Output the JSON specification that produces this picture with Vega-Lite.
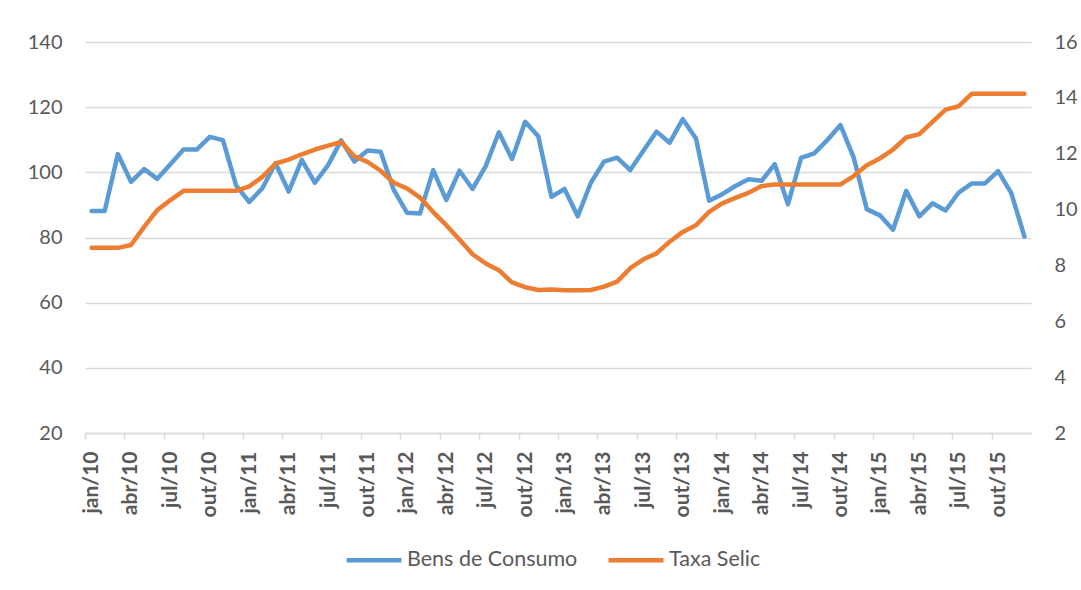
{
  "$schema": "https://vega.github.io/schema/vega-lite/v6.json",
  "width": 946,
  "height": 391,
  "autosize": {"type": "none"},
  "padding": {"left": 85, "top": 42, "right": 50, "bottom": 157},
  "background": "#ffffff",
  "config": {
    "view": {"stroke": null},
    "font": "Lato",
    "axis": {"labelColor": "#595959", "labelFont": "Lato", "title": null}
  },
  "data": {
    "values": [
      {"mes": "jan/10", "bens": 88.1, "selic": 8.63},
      {"mes": "fev/10", "bens": 88.1, "selic": 8.63},
      {"mes": "mar/10", "bens": 105.6, "selic": 8.63},
      {"mes": "abr/10", "bens": 97.1, "selic": 8.73},
      {"mes": "mai/10", "bens": 101.0, "selic": 9.38},
      {"mes": "jun/10", "bens": 98.0, "selic": 9.98},
      {"mes": "jul/10", "bens": 102.5, "selic": 10.34},
      {"mes": "ago/10", "bens": 107.0, "selic": 10.67},
      {"mes": "set/10", "bens": 107.0, "selic": 10.67},
      {"mes": "out/10", "bens": 110.9, "selic": 10.67},
      {"mes": "nov/10", "bens": 109.9, "selic": 10.67},
      {"mes": "dez/10", "bens": 96.0, "selic": 10.67},
      {"mes": "jan/11", "bens": 90.9, "selic": 10.83},
      {"mes": "fev/11", "bens": 95.1, "selic": 11.17},
      {"mes": "mar/11", "bens": 102.8, "selic": 11.65},
      {"mes": "abr/11", "bens": 94.1, "selic": 11.79},
      {"mes": "mai/11", "bens": 103.8, "selic": 11.98},
      {"mes": "jun/11", "bens": 96.8, "selic": 12.15},
      {"mes": "jul/11", "bens": 102.2, "selic": 12.29},
      {"mes": "ago/11", "bens": 109.8, "selic": 12.42},
      {"mes": "set/11", "bens": 103.3, "selic": 11.91},
      {"mes": "out/11", "bens": 106.7, "selic": 11.71},
      {"mes": "nov/11", "bens": 106.3, "selic": 11.39},
      {"mes": "dez/11", "bens": 94.6, "selic": 10.96},
      {"mes": "jan/12", "bens": 87.6, "selic": 10.76},
      {"mes": "fev/12", "bens": 87.4, "selic": 10.43},
      {"mes": "mar/12", "bens": 100.7, "selic": 9.91},
      {"mes": "abr/12", "bens": 91.5, "selic": 9.44},
      {"mes": "mai/12", "bens": 100.5, "selic": 8.93},
      {"mes": "jun/12", "bens": 94.9, "selic": 8.40},
      {"mes": "jul/12", "bens": 101.9, "selic": 8.07},
      {"mes": "ago/12", "bens": 112.3, "selic": 7.83},
      {"mes": "set/12", "bens": 104.1, "selic": 7.39},
      {"mes": "out/12", "bens": 115.5, "selic": 7.22},
      {"mes": "nov/12", "bens": 111.1, "selic": 7.12},
      {"mes": "dez/12", "bens": 92.5, "selic": 7.14},
      {"mes": "jan/13", "bens": 94.9, "selic": 7.11},
      {"mes": "fev/13", "bens": 86.5, "selic": 7.11},
      {"mes": "mar/13", "bens": 96.8, "selic": 7.12},
      {"mes": "abr/13", "bens": 103.3, "selic": 7.24},
      {"mes": "mai/13", "bens": 104.5, "selic": 7.42},
      {"mes": "jun/13", "bens": 100.7, "selic": 7.90},
      {"mes": "jul/13", "bens": 106.6, "selic": 8.22},
      {"mes": "ago/13", "bens": 112.5, "selic": 8.43},
      {"mes": "set/13", "bens": 109.1, "selic": 8.85},
      {"mes": "out/13", "bens": 116.3, "selic": 9.20},
      {"mes": "nov/13", "bens": 110.4, "selic": 9.44},
      {"mes": "dez/13", "bens": 91.3, "selic": 9.92},
      {"mes": "jan/14", "bens": 93.3, "selic": 10.22},
      {"mes": "fev/14", "bens": 95.8, "selic": 10.42},
      {"mes": "mar/14", "bens": 97.9, "selic": 10.60},
      {"mes": "abr/14", "bens": 97.4, "selic": 10.84},
      {"mes": "mai/14", "bens": 102.5, "selic": 10.90},
      {"mes": "jun/14", "bens": 90.2, "selic": 10.90},
      {"mes": "jul/14", "bens": 104.4, "selic": 10.90},
      {"mes": "ago/14", "bens": 105.8, "selic": 10.90},
      {"mes": "set/14", "bens": 109.9, "selic": 10.90},
      {"mes": "out/14", "bens": 114.5, "selic": 10.90},
      {"mes": "nov/14", "bens": 104.6, "selic": 11.20},
      {"mes": "dez/14", "bens": 88.7, "selic": 11.59},
      {"mes": "jan/15", "bens": 86.8, "selic": 11.83},
      {"mes": "fev/15", "bens": 82.4, "selic": 12.15},
      {"mes": "mar/15", "bens": 94.3, "selic": 12.58},
      {"mes": "abr/15", "bens": 86.5, "selic": 12.70},
      {"mes": "mai/15", "bens": 90.5, "selic": 13.14},
      {"mes": "jun/15", "bens": 88.3, "selic": 13.58},
      {"mes": "jul/15", "bens": 93.8, "selic": 13.70},
      {"mes": "ago/15", "bens": 96.6, "selic": 14.15},
      {"mes": "set/15", "bens": 96.6, "selic": 14.15},
      {"mes": "out/15", "bens": 100.4, "selic": 14.15},
      {"mes": "nov/15", "bens": 93.6, "selic": 14.15},
      {"mes": "dez/15", "bens": 80.3, "selic": 14.15}
    ]
  },
  "encoding": {
    "x": {
      "field": "mes",
      "type": "ordinal",
      "sort": null,
      "scale": {"type": "point", "padding": 0.5},
      "axis": {
        "values": ["jan/10","abr/10","jul/10","out/10","jan/11","abr/11","jul/11","out/11","jan/12","abr/12","jul/12","out/12","jan/13","abr/13","jul/13","out/13","jan/14","abr/14","jul/14","out/14","jan/15","abr/15","jul/15","out/15"],
        "labelAngle": -90,
        "labelFontSize": 21,
        "labelFontWeight": "bold",
        "labelColor": "#595959",
        "labelPadding": 12,
        "tickOffset": -6.57,
        "labelOffset": 6.57,
        "tickSize": 6,
        "tickColor": "#D9D9D9",
        "tickWidth": 1.5,
        "domainColor": "#D9D9D9",
        "domainWidth": 1.5,
        "grid": false
      }
    }
  },
  "layer": [
    {
      "mark": {"type": "line", "strokeWidth": 4.5, "strokeCap": "round", "strokeJoin": "round"},
      "encoding": {
        "y": {
          "field": "bens",
          "type": "quantitative",
          "scale": {"domain": [20, 140], "nice": false, "zero": false},
          "axis": {
            "values": [20, 40, 60, 80, 100, 120, 140],
            "orient": "left",
            "domain": false,
            "ticks": false,
            "labelFontSize": 20,
            "labelPadding": 23,
            "grid": true,
            "gridColor": "#D9D9D9",
            "gridWidth": 1.5
          }
        },
        "color": {
          "datum": "Bens de Consumo",
          "type": "nominal",
          "scale": {"domain": ["Bens de Consumo", "Taxa Selic"], "range": ["#5B9BD5", "#ED7D31"]},
          "legend": {
            "title": null,
            "orient": "none",
            "legendX": 259,
            "legendY": 488,
            "direction": "horizontal",
            "symbolType": "stroke",
            "symbolSize": 3025,
            "symbolStrokeWidth": 4.5,
            "labelFontSize": 21.5,
            "labelLimit": 400,
            "labelColor": "#595959",
            "labelFont": "Lato",
            "labelOffset": 3,
            "columnPadding": 21
          }
        }
      }
    },
    {
      "mark": {"type": "line", "strokeWidth": 4.5, "strokeCap": "round", "strokeJoin": "round"},
      "encoding": {
        "y": {
          "field": "selic",
          "type": "quantitative",
          "scale": {"domain": [2, 16], "nice": false, "zero": false},
          "axis": {
            "values": [2, 4, 6, 8, 10, 12, 14, 16],
            "orient": "right",
            "domain": false,
            "ticks": false,
            "labelFontSize": 20,
            "labelPadding": 23,
            "grid": false
          }
        },
        "color": {"datum": "Taxa Selic", "type": "nominal"}
      }
    }
  ],
  "resolve": {"scale": {"y": "independent"}}
}
